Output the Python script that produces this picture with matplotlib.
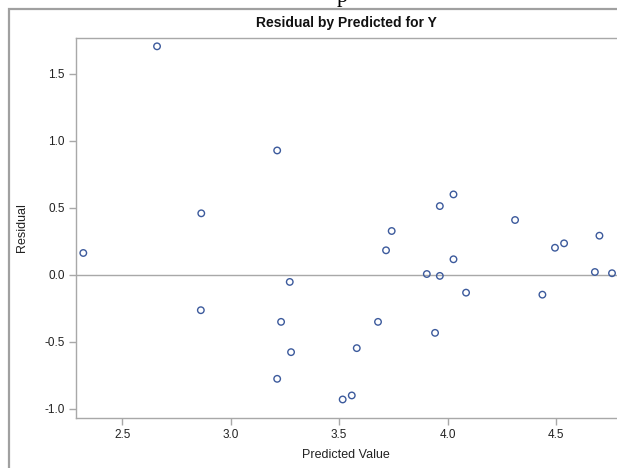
import matplotlib
matplotlib.use("Agg")
import matplotlib.pyplot as plt
from matplotlib.patches import Rectangle

# Residual vs predicted values
predicted = [2.320, 2.660, 2.864, 2.862, 3.214, 3.214, 3.232, 3.272, 3.278,
             3.516, 3.558, 3.581, 3.679, 3.716, 3.742, 3.904, 3.942, 3.964,
             3.964, 4.027, 4.027, 4.085, 4.311, 4.437, 4.495, 4.537, 4.679,
             4.700, 4.758]
residual = [0.164, 1.706, 0.460, -0.263, 0.929, -0.775, -0.350, -0.052, -0.576,
            -0.929, -0.899, -0.546, -0.350, 0.184, 0.328, 0.007, -0.432, 0.514,
            -0.007, 0.601, 0.117, -0.132, 0.410, -0.147, 0.203, 0.236, 0.022,
            0.293, 0.013]

x_ticks = [2.5, 3.0, 3.5, 4.0, 4.5]
y_ticks = [-1.0, -0.5, 0.0, 0.5, 1.0, 1.5]

plt.rcParams['font.family'] = ['Liberation Sans', 'DejaVu Sans']

fig = plt.figure(figsize=(6.17, 4.68), dpi=100)
ax = fig.add_axes([0.1227, 0.1075, 0.8773, 0.8107])

gray = '#a8a8a8'

# outer frame (cut off at right and bottom)
fig.patches.append(Rectangle((9 / 617, -0.1), 1.2, (468 - 9) / 468 + 0.1,
                             transform=fig.transFigure, fill=False,
                             edgecolor='#a0a0a0', linewidth=1.6))

# fragment of text above the frame, only its lower part shows
fig.text(342 / 617, 1.0 - 2 / 468, 'p', family='Liberation Serif', fontsize=16,
         ha='center', va='baseline', color='black')

ax.axhline(0, color=gray, linewidth=1.0, zorder=1)
ax.scatter(predicted, residual, s=22, facecolors='none', edgecolors='#3c5a9c',
           linewidths=1.0, zorder=3)

ax.set_xlim(2.285, 4.781)
ax.set_ylim(-1.065, 1.766)
ax.set_xticks(x_ticks)
ax.set_yticks(y_ticks)
ax.set_xticklabels([f'{v:.1f}' for v in x_ticks])
ax.set_yticklabels([f'{v:.1f}' for v in y_ticks])

for side in ['left', 'bottom', 'top']:
    ax.spines[side].set_color(gray)
    ax.spines[side].set_linewidth(1.0)
ax.spines['right'].set_visible(False)

ax.tick_params(axis='both', colors=gray, labelcolor='#222222', length=5,
               width=1.0, labelsize=8.5, pad=3)

ax.set_xlabel('Predicted Value', fontsize=9, color='#222222', labelpad=6)
ax.set_ylabel('Residual', fontsize=9, color='#222222', labelpad=12)
ax.set_title('Residual by Predicted for Y', fontsize=10, fontweight='bold',
             color='#111111', pad=8)

fig.savefig('out.png', dpi=100)
